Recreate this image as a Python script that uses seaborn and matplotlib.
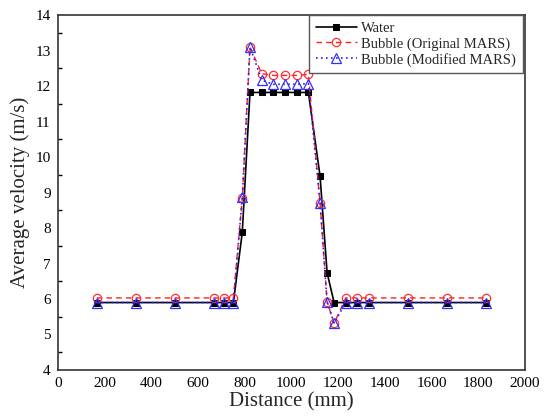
import matplotlib
matplotlib.use("Agg")
import matplotlib.pyplot as plt
from matplotlib.ticker import MultipleLocator
import seaborn as sns
import pandas as pd

# Measurement stations along the channel (mm)
distance = [167, 333, 500, 667, 710, 752, 790, 823, 873, 923, 973, 1023, 1073,
            1123, 1153, 1183, 1233, 1283, 1333, 1500, 1667, 1835]

# Average velocity (m/s) at each station
water = [5.9, 5.9, 5.9, 5.9, 5.9, 5.9, 7.88, 11.82, 11.82, 11.82, 11.82, 11.82, 11.82,
         9.46, 6.74, 5.9, 5.9, 5.9, 5.9, 5.9, 5.9, 5.9]
bubble_original = [6.03, 6.03, 6.03, 6.03, 6.03, 6.03, 8.85, 13.1, 12.35, 12.3, 12.3, 12.3, 12.33,
                   8.7, 5.92, 5.32, 6.03, 6.03, 6.03, 6.03, 6.03, 6.03]
bubble_modified = [5.9, 5.9, 5.9, 5.9, 5.9, 5.9, 8.86, 13.1, 12.17, 12.05, 12.05, 12.05, 12.07,
                   8.7, 5.92, 5.32, 5.9, 5.9, 5.9, 5.9, 5.9, 5.9]

series_labels = ["Water", "Bubble (Original MARS)", "Bubble (Modified MARS)"]

df = pd.DataFrame({
    "distance": distance,
    "water": water,
    "original": bubble_original,
    "modified": bubble_modified,
})

sns.set_theme(style="white")
plt.rcParams["font.family"] = ["Liberation Serif", "DejaVu Serif"]

fig = plt.figure(figsize=(5.48, 4.19), dpi=100)
ax = fig.add_axes([0.1053, 0.117, 0.8527, 0.847])

sns.lineplot(data=df, x="distance", y="water", ax=ax, estimator=None, sort=False,
             color="black", linestyle="-", linewidth=1.2, marker="s", markersize=4.8,
             markerfacecolor="black", markeredgecolor="black", label=series_labels[0])
sns.lineplot(data=df, x="distance", y="original", ax=ax, estimator=None, sort=False,
             color="#ff2020", linestyle=(0, (4, 3)), linewidth=1.0, marker="o", markersize=6,
             markerfacecolor="none", markeredgecolor="#ff3030", markeredgewidth=0.9,
             label=series_labels[1])
sns.lineplot(data=df, x="distance", y="modified", ax=ax, estimator=None, sort=False,
             color="#2020ff", linestyle=(0, (1, 2)), linewidth=1.2, marker="^", markersize=6.5,
             markerfacecolor="none", markeredgecolor="#3030ff", markeredgewidth=0.9,
             label=series_labels[2])

ax.set_xlim(0, 2000)
ax.set_ylim(4, 14)
ax.xaxis.set_major_locator(MultipleLocator(200))
ax.yaxis.set_major_locator(MultipleLocator(1))
ax.yaxis.set_minor_locator(MultipleLocator(0.5))

ax.tick_params(axis="both", which="both", direction="in", top=False, right=False,
               labelsize=11, colors="black", pad=5)
ax.tick_params(axis="both", which="major", length=5, width=1.0)
ax.tick_params(axis="y", which="minor", length=3, width=1.0, left=True)
ax.tick_params(axis="x", which="minor", bottom=False)

for spine in ax.spines.values():
    spine.set_visible(True)
    spine.set_color("#333333")
    spine.set_linewidth(1.2)

ax.set_xlabel("Distance (mm)", fontsize=15, labelpad=2)
ax.set_ylabel("Average velocity (m/s)", fontsize=15, labelpad=4)
ax.grid(False)

leg = ax.legend(loc="upper right", bbox_to_anchor=(0.995, 1.0), fontsize=10.5,
                frameon=True, fancybox=False, edgecolor="#555555", framealpha=1,
                handlelength=2.8, handletextpad=0.3, borderpad=0.45, labelspacing=0.15,
                borderaxespad=0.0)
leg.get_frame().set_linewidth(1.0)

fig.savefig("out.png", dpi=100)
